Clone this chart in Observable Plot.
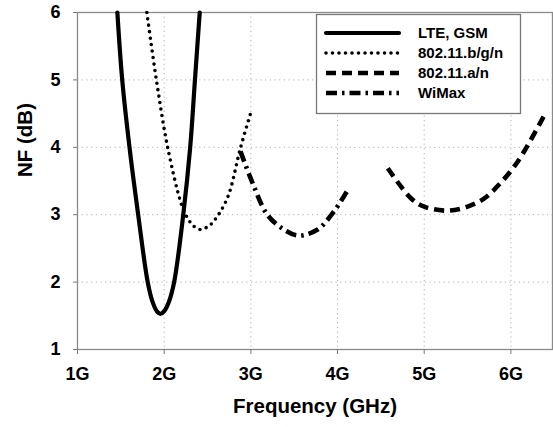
<!DOCTYPE html>
<html>
<head>
<meta charset="utf-8">
<script src="https://cdn.jsdelivr.net/npm/d3@7"></script>
<script src="https://cdn.jsdelivr.net/npm/@observablehq/plot@0.6"></script>
<style>
  html, body { margin: 0; padding: 0; background: white; }
  #wrap { position: relative; width: 553px; height: 427px; }
  #legend { position: absolute; left: 0; top: 0; }
</style>
</head>
<body>
<div id="wrap"></div>
<script>
// ---- data ----
const seriesNames = ["LTE, GSM", "802.11.b/g/n", "802.11.a/n", "WiMax"];
const xTicks = [1, 2, 3, 4, 5, 6];
const xTickLabels = ["1G", "2G", "3G", "4G", "5G", "6G"];
const yTicks = [1, 2, 3, 4, 5, 6];

const lteFreq = [1.46, 1.516, 1.60, 1.70, 1.81, 1.865, 1.92, 1.96, 2.00, 2.055, 2.115, 2.22, 2.30, 2.355, 2.41];
const lteNF   = [6.0, 5.0, 4.0, 3.0, 2.0, 1.71, 1.56, 1.53, 1.57, 1.71, 2.0, 3.0, 4.0, 5.0, 6.0];

const bgnFreq = [1.80, 1.91, 2.04, 2.20, 2.27, 2.34, 2.42, 2.50, 2.57, 2.73, 2.88, 3.01];
const bgnNF   = [6.0, 5.0, 4.0, 3.15, 2.95, 2.83, 2.78, 2.82, 2.90, 3.25, 3.99, 4.56];

const anFreq = [4.58, 4.85, 5.00, 5.27, 5.50, 5.69, 5.88, 6.08, 6.38];
const anNF   = [3.69, 3.24, 3.12, 3.06, 3.12, 3.24, 3.47, 3.79, 4.46];

const wimaxFreq = [2.88, 3.02, 3.19, 3.38, 3.55, 3.77, 3.96, 4.11];
const wimaxNF   = [3.94, 3.47, 3.00, 2.78, 2.69, 2.78, 3.05, 3.35];

const styles = [
  {strokeWidth: 4.2, strokeDasharray: null, strokeLinecap: "round"},
  {strokeWidth: 3.6, strokeDasharray: "0,6.5", strokeLinecap: "round"},
  {strokeWidth: 4.6, strokeDasharray: "10,6", strokeLinecap: "butt"},
  {strokeWidth: 4.6, strokeDasharray: "11,5,2.5,5", strokeLinecap: "butt"}
];

const toRows = (fs, vs) => fs.map((f, i) => ({f, v: vs[i]}));
const series = [
  toRows(lteFreq, lteNF),
  toRows(bgnFreq, bgnNF),
  toRows(anFreq, anNF),
  toRows(wimaxFreq, wimaxNF)
];

const FONT = "'Liberation Sans', Arial, Helvetica, sans-serif";

const lineMarks = series.map((rows, i) => Plot.line(rows, {
  x: "f", y: "v", stroke: "black", curve: "catmull-rom",
  strokeWidth: styles[i].strokeWidth,
  strokeDasharray: styles[i].strokeDasharray,
  strokeLinecap: styles[i].strokeLinecap,
  strokeLinejoin: "round"
}));

const chart = Plot.plot({
  width: 553,
  height: 427,
  marginLeft: 77,
  marginRight: 1,
  marginTop: 12,
  marginBottom: 78,
  style: {fontFamily: FONT, background: "white", color: "black", overflow: "visible"},
  x: {domain: [1, 6.48]},
  y: {domain: [1, 6]},
  marks: [
    Plot.gridX(xTicks, {stroke: "#b0b0b0", strokeOpacity: 1, strokeDasharray: "1.2,3.5"}),
    Plot.gridY(yTicks, {stroke: "#b0b0b0", strokeOpacity: 1, strokeDasharray: "1.2,3.5"}),
    Plot.frame({stroke: "#8a8a8a", strokeWidth: 1.3}),
    Plot.axisX(xTicks, {
      tickFormat: (d) => xTickLabels[xTicks.indexOf(d)],
      tickSize: 5, tickPadding: 13, stroke: "#777", fill: "black",
      fontSize: 18, fontWeight: "bold", label: null
    }),
    Plot.axisY(yTicks, {
      tickFormat: d3.format("d"),
      tickSize: 4, tickPadding: 13, stroke: "#777", fill: "black",
      fontSize: 18, fontWeight: "bold", label: null
    }),
    Plot.text(["Frequency (GHz)"], {
      frameAnchor: "bottom", dy: 63, text: (d) => d,
      fontSize: 20.5, fontWeight: "bold", fill: "black"
    }),
    Plot.text(["NF (dB)"], {
      frameAnchor: "left", dx: -52, dy: -4, rotate: -90, text: (d) => d,
      fontSize: 20.5, fontWeight: "bold", fill: "black"
    }),
    ...lineMarks
  ]
});

const wrap = document.getElementById("wrap");
wrap.appendChild(chart);

// ---- legend overlay ----
const leg = d3.select(wrap).append("svg")
  .attr("id", "legend")
  .attr("width", 553).attr("height", 427)
  .style("pointer-events", "none");

leg.append("rect")
  .attr("x", 316.5).attr("y", 14.5)
  .attr("width", 204).attr("height", 99)
  .attr("fill", "white").attr("stroke", "#777").attr("stroke-width", 1.3);

seriesNames.forEach((name, i) => {
  const y = 33 + i * 20;
  const s = styles[i];
  leg.append("line")
    .attr("x1", 326).attr("x2", 399).attr("y1", y).attr("y2", y)
    .attr("stroke", "black")
    .attr("stroke-width", s.strokeWidth)
    .attr("stroke-dasharray", s.strokeDasharray)
    .attr("stroke-linecap", s.strokeLinecap);
  leg.append("text")
    .attr("x", 418).attr("y", y).attr("dy", "0.36em")
    .attr("font-family", FONT).attr("font-size", 15).attr("font-weight", "bold")
    .attr("fill", "black")
    .text(name);
});
</script>
</body>
</html>
